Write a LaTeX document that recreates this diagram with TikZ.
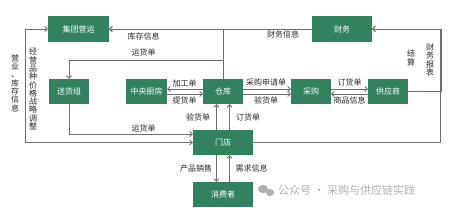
\documentclass[tikz,border=0pt]{standalone}
\usepackage{fontspec}
\newfontfamily\cjk{Noto Sans CJK SC}
\usetikzlibrary{arrows.meta}
\definecolor{boxgreen}{RGB}{50,130,96}
\definecolor{linegray}{RGB}{110,110,110}
\definecolor{wmgray}{RGB}{175,175,175}
\tikzset{
  box/.style={draw=none,rectangle,fill=boxgreen,text=white,minimum height=25pt,minimum width=40pt,inner sep=0pt},
  arr/.style={draw=linegray,line width=0.8pt,-{Straight Barb[length=2.5pt,width=5pt]}},
  lbl/.style={inner sep=0pt,text=black!85},
  vlbl/.style={inner sep=0pt,text=black!85,align=center,font=\cjk\fontsize{8}{8.3}\selectfont}
}

\begin{document}
\begin{tikzpicture}[x=1pt,y=-1pt, every node/.style={font=\cjk\fontsize{8}{9}\selectfont}]
\useasboundingbox (0,0) rectangle (452,209);
\node[box,minimum width=61pt,minimum height=26pt] (jt) at (78.5,29) {集团营运};
\node[box,minimum width=60pt,minimum height=26pt] (cw) at (342,29) {财务};
\node[box] (shz) at (69,91.5) {送货组};
\node[box,minimum width=41pt] (zycf) at (146.5,91.5) {中央厨房};
\node[box] (ck) at (223,91.5) {仓库};
\node[box] (cg) at (311,91.5) {采购};
\node[box] (gys) at (388,91.5) {供应商};
\node[box,minimum width=60pt] (md) at (223,142.5) {门店};
\node[box,minimum width=60pt] (xfz) at (223,194.5) {消费者};
% top
\draw[arr] (cw.west) -- (jt.east);
\draw[arr] (ck.north) |- (jt.east);
\draw[arr] (ck.north) -- ++(0,-18) -| (shz.north);
% middle row
\draw[arr] ([yshift=2.5pt]ck.west) -- ([yshift=2.5pt]zycf.east);
\draw[arr] ([yshift=-2.5pt]zycf.east) -- ([yshift=-2.5pt]ck.west);
\draw[arr] ([yshift=2.5pt]ck.east) -- ([yshift=2.5pt]cg.west);
\draw[arr] ([yshift=-2.5pt]ck.east) -- ([yshift=-2.5pt]cg.west);
\draw[arr] ([yshift=2.5pt]cg.east) -- ([yshift=2.5pt]gys.west);
\draw[arr] ([yshift=-2.5pt]gys.west) -- ([yshift=-2.5pt]cg.east);
% right side
\draw[arr] (gys.east) -- ++(33,0) |- (cw.east);
\draw[arr] (md.east) -- ++(187,0) |- (cw.east);
% store
\draw[arr] ([xshift=-6.5pt]md.north) -- ([xshift=-6.5pt]ck.south);
\draw[arr] ([xshift=6.5pt]md.north) -- ([xshift=6.5pt]ck.south);
\draw[arr] (shz.south) |- ([yshift=8.5pt]md.west);
\draw[arr,{Straight Barb[length=2.5pt,width=5pt]}-{Straight Barb[length=2.5pt,width=5pt]}] (jt.west) -- ++(-22,0) |- (md.west);
\draw[arr] ([xshift=-6.5pt]md.south) -- ([xshift=-6.5pt]xfz.north);
\draw[arr] ([xshift=6.5pt]xfz.north) -- ([xshift=6.5pt]md.south);
% labels
\node[lbl] (kcxx) at (143.5,36) {库存信息};
\node[lbl] (cwxx) at (283,34) {财务信息};
\node[lbl] (yhd1) at (143.5,52) {运货单};
\node[lbl] (jgd) at (184.5,83) {加工单};
\node[lbl] (thd) at (184.5,100) {提货单};
\node[lbl] (cgsqd) at (266,82) {采购申请单};
\node[lbl] (yhd2) at (266,100) {验货单};
\node[lbl] (dhd1) at (349.5,82) {订货单};
\node[lbl] (spxx) at (349.5,100) {商品信息};
\node[vlbl] (js) at (411,58) {结\\算};
\node[vlbl] (cwbb) at (430,60) {财\\务\\报\\表};
\node[lbl] (yhd3) at (198,117) {验货单};
\node[lbl] (dhd2) at (248,117) {订货单};
\node[lbl] (yhd4) at (143.5,128) {运货单};
\node[lbl] (cpxs) at (196,168) {产品销售};
\node[lbl] (xqxx) at (251.5,168) {需求信息};
\node[vlbl] (yykc) at (15,83) {营\\业\\、\\库\\存\\信\\息};
\node[vlbl] (jypz) at (33,89) {经\\营\\品\\种\\价\\格\\战\\略\\调\\整};
% watermark
\fill[wmgray] (263,189) ellipse (5pt and 4.2pt);
\fill[wmgray] (270,192.5) ellipse (4.2pt and 3.6pt);
\node[text=wmgray,font=\cjk\fontsize{11}{12}\selectfont,anchor=west,inner sep=0pt] (wm) at (278,190) {公众号 · 采购与供应链实践};
\end{tikzpicture}
\end{document}
